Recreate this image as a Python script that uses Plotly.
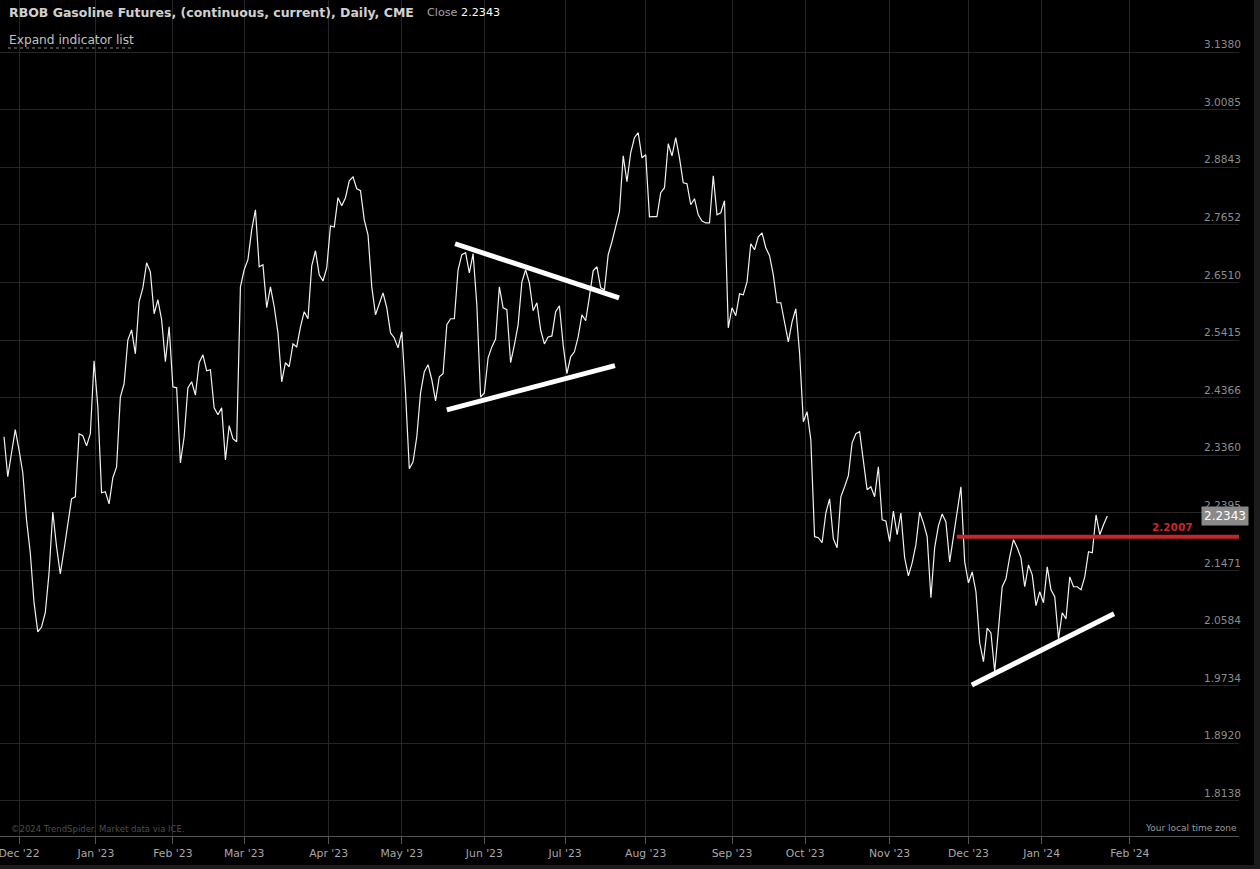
import math
import numpy as np
import pandas as pd
import plotly.graph_objects as go

# ---------------- data (daily closes) ----------------
nov22 = [2.3678, 2.2995, 2.3398, 2.3800]
dec22 = [2.3451, 2.3062, 2.2280, 2.1750, 2.0969, 2.0525, 2.0599, 2.0815, 2.1431, 2.2408, 2.1846,
         2.1416, 2.1798, 2.2199, 2.2626, 2.2660, 2.3730, 2.3695, 2.3520, 2.3730, 2.5033]
jan23 = [2.4202, 2.2727, 2.2744, 2.2543, 2.2978, 2.3162, 2.4377, 2.4614, 2.5415, 2.5605, 2.5160,
         2.6137, 2.6404, 2.6894, 2.6716, 2.5909, 2.6175, 2.5795, 2.5014, 2.5662]
feb23 = [2.4559, 2.4541, 2.3229, 2.3678, 2.4541, 2.4650, 2.4413, 2.4996, 2.5142, 2.4850, 2.4869,
         2.4184, 2.4062, 2.4184, 2.3280, 2.3870, 2.3643, 2.3590, 2.6423]
mar23 = [2.6756, 2.6954, 2.7549, 2.7958, 2.6815, 2.6855, 2.6023, 2.6423, 2.6042, 2.5548, 2.4650,
         2.4996, 2.4923, 2.5342, 2.5288, 2.5662, 2.5947, 2.5814, 2.6835, 2.7132, 2.6657, 2.6538, 2.6795]
apr23 = [2.7628, 2.7608, 2.8206, 2.8041, 2.8206, 2.8558, 2.8640, 2.8392, 2.8351, 2.7751, 2.7450,
         2.6423, 2.5890, 2.6080, 2.6308, 2.6023, 2.5548, 2.5453, 2.5269]
may23 = [2.5567, 2.4450, 2.3129, 2.3246, 2.3678, 2.4450, 2.4832, 2.4960, 2.4687, 2.4307, 2.4741,
         2.4796, 2.5700, 2.5814, 2.5814, 2.6756, 2.7053, 2.7093, 2.6696, 2.7073, 2.6080, 2.4377]
jun23 = [2.4450, 2.5087, 2.5288, 2.5434, 2.6423, 2.6023, 2.5985, 2.4996, 2.5324, 2.5700, 2.6518,
         2.6756, 2.6499, 2.5966, 2.6118, 2.5605, 2.5342, 2.5472, 2.5491, 2.5947, 2.6061, 2.5324]
jul23 = [2.4796, 2.5105, 2.5196, 2.5472, 2.5890, 2.5776, 2.6232, 2.6736, 2.6815, 2.6404, 2.6366,
         2.7053, 2.7311, 2.7608, 2.7917, 2.9085, 2.8537, 2.9149, 2.9473, 2.9580, 2.9042]
aug23 = [2.9106, 2.7813, 2.7820, 2.7820, 2.8310, 2.8413, 2.9343, 2.9085, 2.9473, 2.9042, 2.8516,
         2.8496, 2.8061, 2.8185, 2.7854, 2.7730, 2.7689, 2.7689, 2.8661, 2.7854, 2.7896, 2.8144, 2.5643]
sep23 = [2.6023, 2.5871, 2.6289, 2.6270, 2.6518, 2.7271, 2.7152, 2.7410, 2.7489, 2.7192, 2.7033,
         2.6657, 2.6118, 2.6118, 2.5738, 2.5379, 2.5757, 2.6004, 2.5178, 2.3940]
oct23 = [2.4114, 2.3625, 2.2007, 2.1991, 2.1910, 2.2392, 2.2626, 2.1975, 2.1831, 2.2660, 2.2827,
         2.3012, 2.3573, 2.3730, 2.3765, 2.3246, 2.2777, 2.2827, 2.2660, 2.3162, 2.2280, 2.2263]
nov23 = [2.1927, 2.2425, 2.2039, 2.2392, 2.1670, 2.1385, 2.1590, 2.1879, 2.2408, 2.2231, 2.2007,
         2.1046, 2.1831, 2.2183, 2.2376, 2.2247, 2.1606, 2.2007, 2.2392, 2.2827, 2.1606]
dec23 = [2.1277, 2.1446, 2.1138, 2.0363, 2.0082, 2.0584, 2.0510, 1.9935, 2.0510, 2.1215, 2.1339,
         2.1686, 2.1959, 2.1831, 2.1670, 2.1215, 2.1558, 2.1400, 2.0923, 2.1138]
jan24 = [2.0969, 2.1526, 2.1169, 2.1061, 2.0422, 2.0815, 2.0723, 2.1369, 2.1215, 2.1215, 2.1169,
         2.1369, 2.1766, 2.1750, 2.2360, 2.2039, 2.2199, 2.2343]

closes = (nov22 + dec22 + jan23 + feb23 + mar23 + apr23 + may23 + jun23 + jul23 + aug23
          + sep23 + oct23 + nov23 + dec23 + jan24)

holidays = ["2022-11-24", "2022-12-26", "2023-01-02", "2023-01-16", "2023-02-20", "2023-04-07",
            "2023-05-29", "2023-09-04", "2023-11-23", "2023-12-25", "2024-01-01", "2024-01-15"]

month_labels = ["Dec '22", "Jan '23", "Feb '23", "Mar '23", "Apr '23", "May '23", "Jun '23",
                "Jul '23", "Aug '23", "Sep '23", "Oct '23", "Nov '23", "Dec '23", "Jan '24", "Feb '24"]

y_ticks = [3.1380, 3.0085, 2.8843, 2.7652, 2.6510, 2.5415, 2.4366, 2.3360, 2.2395, 2.1471,
           2.0584, 1.9734, 1.8920, 1.8138]

# drawn trendlines (trading-day index, price)
wedge_upper_x = [120.2, 163.9]
wedge_upper_y = [2.7271, 2.6213]
wedge_lower_x = [118.0, 162.8]
wedge_lower_y = [2.4149, 2.4942]
support_x = [257.9, 295.8]
support_y = [1.9743, 2.0800]
resistance_level = 2.2007
resistance_start = 253.9

# ---------------- axes helpers ----------------
all_days = pd.bdate_range("2022-11-25", "2024-01-31")
all_days = all_days[~all_days.isin(pd.to_datetime(holidays))]
dates = all_days[:len(closes)]
last_date = dates[-1]
last_idx = len(closes) - 1
x_idx = np.arange(len(closes))

# month gridlines: on the first session of the month (or between sessions when the
# month starts on a closed day); past the last bar the axis runs in calendar days
month_starts = pd.date_range("2022-12-01", periods=len(month_labels), freq="MS")
tick_pos = []
for m in month_starts:
    if m > last_date:
        tick_pos.append(last_idx + (m - last_date).days)
        continue
    i = int(dates.searchsorted(m))
    tick_pos.append(i if dates[i] == m else i - 0.5)

x_range = [-1.07, 329.1]
y_range = [0.2474, 0.5132]

FONT = "DejaVu Sans"
GRID = "#262626"

fig = go.Figure()
fig.add_trace(go.Scatter(x=x_idx, y=closes, mode="lines",
                         customdata=dates.strftime("%Y-%m-%d"),
                         line=dict(color="#f2f2f2", width=1.2), hoverinfo="skip"))
fig.add_trace(go.Scatter(x=[resistance_start, x_range[1]], y=[resistance_level, resistance_level],
                         mode="lines", line=dict(color="#c3272b", width=4), hoverinfo="skip"))
for xs, ys in [(wedge_upper_x, wedge_upper_y), (wedge_lower_x, wedge_lower_y), (support_x, support_y)]:
    fig.add_trace(go.Scatter(x=xs, y=ys, mode="lines", line=dict(color="#ffffff", width=5),
                             hoverinfo="skip"))

fig.update_layout(
    width=1260, height=869,
    margin=dict(l=0, r=21, t=0, b=33),
    paper_bgcolor="#000000", plot_bgcolor="#000000",
    showlegend=False,
    font=dict(family=FONT, color="#999999"),
    xaxis=dict(range=x_range, tickmode="array", tickvals=tick_pos, ticktext=month_labels,
               showgrid=True, gridcolor=GRID, gridwidth=1, zeroline=False,
               ticks="outside", ticklen=7, tickcolor="#555555",
               showline=True, linecolor="#555555", linewidth=1,
               ticklabeloverflow="allow",
               tickfont=dict(family=FONT, size=10.8, color="#a8a8a8")),
    yaxis=dict(type="log", range=y_range, side="right", tickmode="array",
               tickvals=y_ticks, ticktext=[f"{v:.4f}" for v in y_ticks],
               ticklabelposition="inside top", ticks="", ticklabelstandoff=-5,
               ticklabeloverflow="allow",
               showgrid=True, gridcolor=GRID, gridwidth=1, zeroline=False, showline=False,
               tickfont=dict(family=FONT, size=10.6, color="#8c8c8c")),
)

ann = []
ann.append(dict(text="<b>RBOB Gasoline Futures, (continuous, current), Daily, CME</b>",
                xref="paper", yref="paper", x=0, y=1, xanchor="left", yanchor="middle",
                xshift=7, yshift=-12, showarrow=False,
                font=dict(family=FONT, size=12.5, color="#d0d0d0")))
ann.append(dict(text=f"Close <span style='color:#ffffff'>{closes[-1]:.4f}</span>",
                xref="paper", yref="paper", x=0, y=1, xanchor="left", yanchor="middle",
                xshift=425, yshift=-12, showarrow=False,
                font=dict(family=FONT, size=11.2, color="#a0a0a0")))
ann.append(dict(text="Expand indicator list",
                xref="paper", yref="paper", x=0, y=1, xanchor="left", yanchor="middle",
                xshift=7, yshift=-40, showarrow=False,
                font=dict(family=FONT, size=12.2, color="#c0c0c0")))
ann.append(dict(text="©2024 TrendSpider. Market data via ICE.",
                xref="paper", yref="paper", x=0, y=0, xanchor="left", yanchor="bottom",
                xshift=9, yshift=0, showarrow=False,
                font=dict(family=FONT, size=8.5, color="#4d4d4d")))
ann.append(dict(text="Your local time zone",
                xref="paper", yref="paper", x=1, y=0, xanchor="right", yanchor="bottom",
                xshift=0, yshift=1, showarrow=False,
                font=dict(family=FONT, size=9, color="#9a9a9a")))
ann.append(dict(text=f"<b>{resistance_level:.4f}</b>",
                xref="paper", yref="y", x=1, y=math.log10(resistance_level),
                xanchor="right", yanchor="bottom", xshift=-44, yshift=2, showarrow=False,
                font=dict(family=FONT, size=10.5, color="#c62828")))
ann.append(dict(text=f"{closes[-1]:.4f}",
                xref="paper", yref="y", x=1, y=math.log10(closes[-1]),
                xanchor="right", yanchor="middle", xshift=10, showarrow=False,
                bgcolor="#8a8a8a", borderpad=2,
                font=dict(family=FONT, size=12, color="#ffffff")))
fig.update_layout(annotations=ann)

plot_w = 1260 - 21
plot_h = 869 - 33
shapes = [
    dict(type="line", xref="paper", yref="paper", x0=8 / plot_w, x1=133 / plot_w,
         y0=1 - 48 / plot_h, y1=1 - 48 / plot_h, line=dict(color="#8a8a8a", width=1, dash="dot")),
    dict(type="rect", xref="paper", yref="paper", x0=1254 / plot_w, x1=1262 / plot_w,
         y0=-35 / plot_h, y1=1.01, fillcolor="#1c1c1c", line=dict(width=0)),
    dict(type="rect", xref="paper", yref="paper", x0=-0.01, x1=1262 / plot_w,
         y0=-35 / plot_h, y1=-29 / plot_h, fillcolor="#1c1c1c", line=dict(width=0)),
]
fig.update_layout(shapes=shapes)

fig.write_html("out.html", config={"displayModeBar": False},
               post_script="document.body.style.margin='0px';document.body.style.overflow='hidden';")
